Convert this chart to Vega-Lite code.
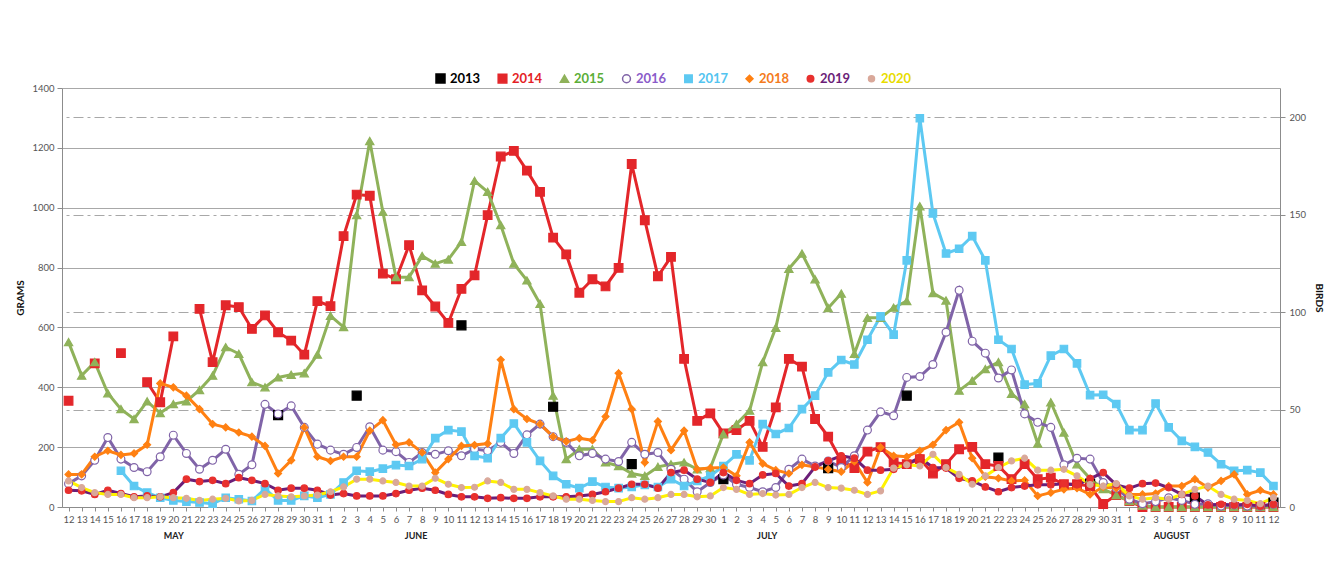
{
  "$schema": "https://vega.github.io/schema/vega-lite/v6.json",
  "width": 1218,
  "height": 419,
  "autosize": {"type": "none"},
  "padding": {"left": 62, "top": 88, "right": 50, "bottom": 56},
  "background": "white",
  "config": {"view": {"stroke": null}, "font": "Lato"},
  "datasets": {"grams": [
    {"d":0,"2014":355,"2015":551,"2016":78,"2018":109,"2019":56,"2020":87},
    {"d":1,"2015":439,"2016":104,"2018":109,"2019":54,"2020":65},
    {"d":2,"2014":480,"2015":484,"2016":156,"2018":168,"2019":42,"2020":48},
    {"d":3,"2015":380,"2016":232,"2018":188,"2019":56,"2020":42},
    {"d":4,"2014":514,"2015":327,"2016":160,"2017":121,"2018":174,"2019":45,"2020":42},
    {"d":5,"2015":294,"2016":132,"2017":70,"2018":179,"2019":34,"2020":31},
    {"d":6,"2014":417,"2015":353,"2016":118,"2017":48,"2018":208,"2019":37,"2020":31},
    {"d":7,"2014":350,"2015":314,"2016":168,"2017":31,"2018":413,"2019":34,"2020":34},
    {"d":8,"2014":570,"2015":344,"2016":240,"2017":22,"2018":400,"2019":48,"2020":31},
    {"d":9,"2015":353,"2016":179,"2017":18,"2018":372,"2019":93,"2020":29},
    {"d":10,"2014":662,"2015":391,"2016":126,"2017":15,"2018":327,"2019":85,"2020":22},
    {"d":11,"2014":484,"2015":439,"2016":156,"2017":11,"2018":277,"2019":89,"2020":26},
    {"d":12,"2014":674,"2015":534,"2016":193,"2017":31,"2018":266,"2019":78,"2020":29},
    {"d":13,"2014":668,"2015":512,"2016":109,"2017":26,"2018":249,"2019":98,"2020":20},
    {"d":14,"2014":595,"2015":417,"2016":141,"2017":20,"2018":235,"2019":89,"2020":22},
    {"d":15,"2014":640,"2015":400,"2016":343,"2017":61,"2018":204,"2019":78,"2020":42},
    {"d":16,"2013":307,"2014":584,"2015":433,"2016":311,"2017":22,"2018":112,"2019":56,"2020":37},
    {"d":17,"2014":556,"2015":442,"2016":338,"2017":22,"2018":156,"2019":63,"2020":34},
    {"d":18,"2014":509,"2015":447,"2016":266,"2017":37,"2018":266,"2019":63,"2020":37},
    {"d":19,"2014":688,"2015":509,"2016":210,"2017":31,"2018":168,"2019":56,"2020":40},
    {"d":20,"2014":671,"2015":639,"2016":190,"2017":42,"2018":154,"2019":40,"2020":51},
    {"d":21,"2014":905,"2015":601,"2016":176,"2017":82,"2018":168,"2019":45,"2020":67},
    {"d":22,"2013":372,"2014":1044,"2015":975,"2016":199,"2017":121,"2018":168,"2019":37,"2020":93},
    {"d":23,"2014":1040,"2015":1223,"2016":268,"2017":118,"2018":255,"2019":37,"2020":93},
    {"d":24,"2014":780,"2015":986,"2016":190,"2017":128,"2018":290,"2019":37,"2020":87},
    {"d":25,"2014":761,"2015":768,"2016":185,"2017":140,"2018":208,"2019":45,"2020":82},
    {"d":26,"2014":875,"2015":768,"2016":149,"2017":137,"2018":216,"2019":56,"2020":70},
    {"d":27,"2014":724,"2015":839,"2016":182,"2017":160,"2018":182,"2019":63,"2020":70},
    {"d":28,"2014":670,"2015":813,"2016":176,"2017":230,"2018":115,"2019":56,"2020":96},
    {"d":29,"2014":615,"2015":827,"2016":188,"2017":257,"2018":160,"2019":42,"2020":76},
    {"d":30,"2013":607,"2014":729,"2015":886,"2016":171,"2017":252,"2018":204,"2019":34,"2020":65},
    {"d":31,"2014":774,"2015":1090,"2016":194,"2017":171,"2018":207,"2019":34,"2020":66},
    {"d":32,"2014":975,"2015":1053,"2016":188,"2017":163,"2018":212,"2019":29,"2020":87},
    {"d":33,"2014":1171,"2015":942,"2016":216,"2017":230,"2018":492,"2019":31,"2020":82},
    {"d":34,"2014":1190,"2015":813,"2016":179,"2017":279,"2018":327,"2019":29,"2020":59},
    {"d":35,"2014":1124,"2015":757,"2016":241,"2017":216,"2018":294,"2019":29,"2020":59},
    {"d":36,"2014":1053,"2015":679,"2016":277,"2017":154,"2018":277,"2019":34,"2020":48},
    {"d":37,"2013":335,"2014":900,"2015":372,"2016":235,"2017":104,"2018":235,"2019":34,"2020":37},
    {"d":38,"2014":844,"2015":160,"2016":216,"2017":76,"2018":219,"2019":34,"2020":26},
    {"d":39,"2014":716,"2015":193,"2016":171,"2017":63,"2018":230,"2019":37,"2020":26},
    {"d":40,"2014":761,"2015":193,"2016":179,"2017":85,"2018":223,"2019":42,"2020":22},
    {"d":41,"2014":737,"2015":149,"2016":160,"2017":67,"2018":302,"2019":51,"2020":18},
    {"d":42,"2014":799,"2015":137,"2016":152,"2017":63,"2018":447,"2019":63,"2020":18},
    {"d":43,"2013":143,"2014":1146,"2015":112,"2016":216,"2017":67,"2018":327,"2019":76,"2020":31},
    {"d":44,"2014":958,"2015":104,"2016":176,"2017":74,"2018":149,"2019":76,"2020":26},
    {"d":45,"2014":771,"2015":134,"2016":182,"2017":67,"2018":286,"2019":63,"2020":31},
    {"d":46,"2014":836,"2015":143,"2016":126,"2017":93,"2018":190,"2019":115,"2020":42},
    {"d":47,"2014":495,"2015":149,"2016":93,"2017":70,"2018":255,"2019":123,"2020":42},
    {"d":48,"2014":288,"2015":126,"2016":51,"2017":87,"2018":126,"2019":93,"2020":34},
    {"d":49,"2014":313,"2015":130,"2016":82,"2017":104,"2018":130,"2019":82,"2020":37},
    {"d":50,"2013":93,"2014":246,"2015":244,"2016":107,"2017":137,"2018":132,"2019":115,"2020":65},
    {"d":51,"2014":257,"2015":277,"2016":76,"2017":176,"2018":104,"2019":89,"2020":59},
    {"d":52,"2014":288,"2015":322,"2016":65,"2017":156,"2018":216,"2019":78,"2020":42},
    {"d":53,"2014":201,"2015":484,"2016":51,"2017":277,"2018":145,"2019":107,"2020":45},
    {"d":54,"2014":333,"2015":599,"2016":65,"2017":244,"2018":123,"2019":112,"2020":40},
    {"d":55,"2014":495,"2015":796,"2016":126,"2017":264,"2018":112,"2019":70,"2020":42},
    {"d":56,"2014":469,"2015":847,"2016":160,"2017":327,"2018":141,"2019":78,"2020":65},
    {"d":57,"2014":294,"2015":761,"2016":137,"2017":372,"2018":134,"2019":134,"2020":82},
    {"d":58,"2013":130,"2014":235,"2015":665,"2016":154,"2017":450,"2018":126,"2019":154,"2020":65},
    {"d":59,"2014":154,"2015":713,"2016":132,"2017":491,"2018":118,"2019":171,"2020":63},
    {"d":60,"2014":130,"2015":512,"2016":171,"2017":476,"2018":152,"2019":163,"2020":56},
    {"d":61,"2014":185,"2015":632,"2016":257,"2017":559,"2018":82,"2019":123,"2020":42},
    {"d":62,"2014":200,"2015":632,"2016":318,"2017":637,"2018":199,"2019":123,"2020":54},
    {"d":63,"2014":149,"2015":666,"2016":305,"2017":576,"2018":171,"2019":126,"2020":130},
    {"d":64,"2013":372,"2014":143,"2015":688,"2016":433,"2017":824,"2018":168,"2019":143,"2020":141},
    {"d":65,"2014":160,"2015":1005,"2016":436,"2017":1299,"2018":188,"2019":165,"2020":137},
    {"d":66,"2014":112,"2015":715,"2016":476,"2017":981,"2018":208,"2019":132,"2020":176},
    {"d":67,"2014":143,"2015":690,"2016":584,"2017":847,"2018":257,"2019":130,"2020":132},
    {"d":68,"2014":193,"2015":389,"2016":724,"2017":863,"2018":283,"2019":96,"2020":109},
    {"d":69,"2014":201,"2015":422,"2016":554,"2017":905,"2018":163,"2019":87,"2020":76},
    {"d":70,"2014":143,"2015":461,"2016":514,"2017":824,"2018":101,"2019":67,"2020":104},
    {"d":71,"2013":165,"2014":137,"2015":484,"2016":431,"2017":559,"2018":96,"2019":51,"2020":132},
    {"d":72,"2014":93,"2015":378,"2016":458,"2017":528,"2018":87,"2019":65,"2020":154},
    {"d":73,"2014":143,"2015":344,"2016":311,"2017":409,"2018":89,"2019":70,"2020":163},
    {"d":74,"2014":93,"2015":212,"2016":283,"2017":413,"2018":37,"2019":74,"2020":123},
    {"d":75,"2014":98,"2015":350,"2016":266,"2017":506,"2018":48,"2019":74,"2020":123},
    {"d":76,"2014":76,"2015":249,"2016":141,"2017":528,"2018":59,"2019":78,"2020":126},
    {"d":77,"2014":76,"2015":143,"2016":163,"2017":480,"2018":63,"2019":74,"2020":104},
    {"d":78,"2013":78,"2014":70,"2015":95,"2016":160,"2017":374,"2018":42,"2019":95,"2020":75},
    {"d":79,"2014":10,"2015":60,"2016":82,"2017":375,"2018":67,"2019":115,"2020":70},
    {"d":80,"2014":40,"2015":40,"2016":63,"2017":344,"2018":63,"2019":74,"2020":78},
    {"d":81,"2014":20,"2015":20,"2016":26,"2017":257,"2018":42,"2019":63,"2020":37},
    {"d":82,"2014":0,"2015":5,"2016":11,"2017":257,"2018":42,"2019":78,"2020":26},
    {"d":83,"2014":0,"2015":0,"2016":18,"2017":346,"2018":45,"2019":80,"2020":31},
    {"d":84,"2014":0,"2015":0,"2016":31,"2017":266,"2018":70,"2019":65,"2020":26},
    {"d":85,"2014":0,"2015":0,"2016":22,"2017":221,"2018":70,"2019":42,"2020":42},
    {"d":86,"2013":31,"2014":0,"2015":0,"2016":9,"2017":201,"2018":93,"2019":37,"2020":59},
    {"d":87,"2014":0,"2015":0,"2016":11,"2017":182,"2018":65,"2019":7,"2020":70},
    {"d":88,"2014":0,"2015":0,"2016":3,"2017":143,"2018":87,"2019":9,"2020":42},
    {"d":89,"2014":0,"2015":0,"2016":7,"2017":121,"2018":109,"2019":7,"2020":26},
    {"d":90,"2014":0,"2015":0,"2016":3,"2017":123,"2018":42,"2019":9,"2020":22},
    {"d":91,"2014":0,"2015":0,"2016":3,"2017":115,"2018":56,"2019":3,"2020":11},
    {"d":92,"2013":15,"2014":0,"2015":0,"2016":9,"2017":70,"2018":42,"2019":9,"2020":31}
  ]},
  "layer": [
    {
      "data": {"name": "grams"},
      "transform": [
        {"fold": ["2013","2014","2015","2016","2017","2018","2019","2020"], "as": ["year","g"]},
        {"filter": "datum.year != '2013'"}
      ],
      "mark": {"type": "line", "strokeWidth": 3, "invalid": "break-paths-show-domains"},
      "encoding": {
        "x": {"field": "d", "type": "quantitative",
          "scale": {"domain": [-0.5, 92.5], "nice": false, "zero": false},
          "axis": {"orient": "bottom", "tickCount": 93, "title": null, "grid": false,
            "labelExpr": "datum.value < 20 ? datum.value + 12 : datum.value < 50 ? datum.value - 19 : datum.value < 81 ? datum.value - 49 : datum.value - 80",
            "labelOverlap": false, "labelFlush": false, "labelBound": false, "labelFontSize": 9.5, "labelColor": "#555555",
            "domainColor": "#8c8c8c", "tickColor": "#8c8c8c", "tickSize": 4, "labelPadding": 3}},
        "y": {"field": "g", "type": "quantitative",
          "scale": {"domain": [0, 1400], "nice": false},
          "axis": {"orient": "left", "values": [0,200,400,600,800,1000,1200,1400], "format": "d", "title": "GRAMS",
            "titleFontWeight": "bold", "titleFontSize": 10, "titleColor": "#111111", "titlePadding": 6,
            "grid": true, "gridColor": "#a8a8a8", "gridWidth": 1,
            "domainColor": "#8c8c8c", "tickColor": "#8c8c8c", "tickSize": 5,
            "labelFontSize": 9.5, "labelColor": "#555555", "labelPadding": 3}},
        "color": {"field": "year", "type": "nominal",
          "scale": {"domain": ["2014","2015","2016","2017","2018","2019","2020"],
            "range": ["#E3262A","#8FB25A","#8064A8","#5DC9F2","#FF8012","#6B1E78","#FFF200"]},
          "legend": null}
      }
    },
    {
      "data": {"name": "grams"},
      "transform": [
        {"fold": ["2013","2014","2015","2016","2017","2018","2019","2020"], "as": ["year","g"]},
        {"filter": "datum.g != null"}
      ],
      "mark": {"type": "point", "filled": true, "opacity": 1, "strokeWidth": 1.2},
      "encoding": {
        "x": {"field": "d", "type": "quantitative",
          "scale": {"domain": [-0.5, 92.5], "nice": false, "zero": false}, "axis": null},
        "y": {"field": "g", "type": "quantitative",
          "scale": {"domain": [0, 1400], "nice": false}, "axis": null},
        "fill": {"field": "year", "type": "nominal",
          "scale": {"domain": ["2013","2014","2015","2016","2017","2018","2019","2020"],
            "range": ["#000000","#E3262A","#8FB25A","#FFFFFF","#5DC9F2","#FF8012","#E8302E","#D9A89A"]},
          "legend": {"orient": "none", "legendX": 372, "legendY": -16, "direction": "horizontal", "title": null,
            "labelFontSize": 13, "labelFontWeight": "bold", "columnPadding": 14, "labelOffset": 3, "symbolStrokeWidth": 1.5,
            "labelColor": {"expr": "datum.label == '2013' ? '#000000' : datum.label == '2014' ? '#E41E26' : datum.label == '2015' ? '#5BAE38' : datum.label == '2016' ? '#8A5CC9' : datum.label == '2017' ? '#53C4F0' : datum.label == '2018' ? '#F47B20' : datum.label == '2019' ? '#6B1E78' : '#E8DC00'"}}},
        "stroke": {"field": "year", "type": "nominal",
          "scale": {"domain": ["2013","2014","2015","2016","2017","2018","2019","2020"],
            "range": ["#000000","#E3262A","#8FB25A","#8064A8","#5DC9F2","#FF8012","#E8302E","#D9A89A"]}},
        "shape": {"field": "year", "type": "nominal",
          "scale": {"domain": ["2013","2014","2015","2016","2017","2018","2019","2020"],
            "range": ["square","square","triangle-up","circle","square","diamond","circle","circle"]}},
        "size": {"field": "year", "type": "nominal",
          "scale": {"domain": ["2013","2014","2015","2016","2017","2018","2019","2020"],
            "range": [81, 36, 20, 34, 14, 32, 5, 5]}}
      }
    },
    {
      "data": {"values": [
        {"pos": 8, "m": "MAY", "b": 0},
        {"pos": 26.5, "m": "JUNE", "b": 0},
        {"pos": 53.3, "m": "JULY", "b": 0},
        {"pos": 84.2, "m": "AUGUST", "b": 0}
      ]},
      "mark": {"type": "point", "opacity": 0},
      "encoding": {
        "x": {"field": "pos", "type": "quantitative",
          "scale": {"domain": [-0.5, 92.5], "nice": false, "zero": false},
          "axis": {"orient": "bottom", "values": [8, 26.5, 53.3, 84.2], "title": null, "grid": false,
            "labelExpr": "datum.value < 15 ? 'MAY' : datum.value < 40 ? 'JUNE' : datum.value < 70 ? 'JULY' : 'AUGUST'",
            "ticks": false, "domain": false, "offset": 24, "labelPadding": 0, "labelFlush": false,
            "labelFontWeight": "bold", "labelFontSize": 9, "labelColor": "#222222"}},
        "y": {"field": "b", "type": "quantitative",
          "scale": {"domain": [0, 214.9], "nice": false},
          "axis": {"orient": "right", "values": [0, 50, 100, 150, 200], "title": "BIRDS",
            "titleFontWeight": "bold", "titleFontSize": 10, "titleColor": "#111111", "titlePadding": 8,
            "grid": true, "gridColor": "#a8a8a8", "gridDash": [10, 4, 3, 4], "gridWidth": 1,
            "domainColor": "#8c8c8c", "tickColor": "#8c8c8c", "tickSize": 5,
            "labelFontSize": 9.5, "labelColor": "#555555", "labelPadding": 4}}
      }
    }
  ],
  "resolve": {"scale": {"y": "independent"}, "axis": {"x": "independent"}}
}
